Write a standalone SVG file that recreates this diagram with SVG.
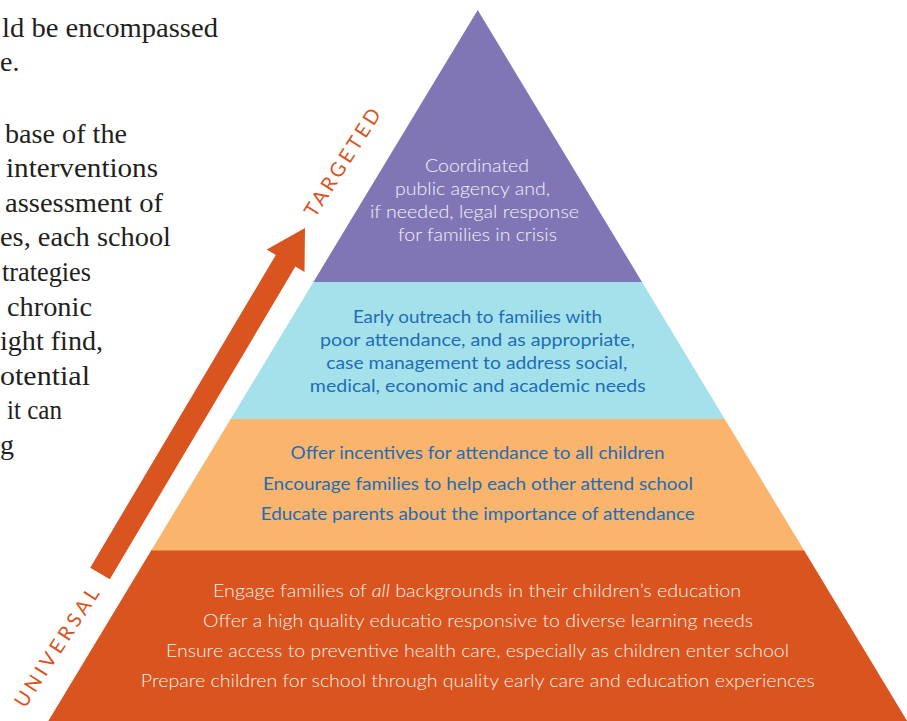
<svg xmlns="http://www.w3.org/2000/svg" width="907" height="721" viewBox="0 0 907 721">
<style>
.body{font-family:"Liberation Serif","Times New Roman",serif;font-size:28px;fill:#231f20}
.pt{font-family:Lato,"Noto Sans","Liberation Sans",sans-serif;font-size:17.5px;text-anchor:middle}
.w{fill:#f4f2fa;font-weight:300}
.b{fill:#1f6db6;font-weight:400}
.r{fill:#fdf1ea;font-weight:300}
.lab{font-family:Lato,"Noto Sans","Liberation Sans",sans-serif;font-size:20px;font-weight:400;fill:#d9541e}
</style>
<rect width="907" height="721" fill="#ffffff"/>
<g id="body-text">
<text class="body" x="2" y="36.7" textLength="216" lengthAdjust="spacingAndGlyphs">ld be encompassed</text>
<text class="body" x="0" y="71.3">e.</text>
<text class="body" x="5" y="142.5" textLength="122" lengthAdjust="spacingAndGlyphs">base of the</text>
<text class="body" x="6" y="177.1" textLength="152" lengthAdjust="spacingAndGlyphs">interventions</text>
<text class="body" x="5" y="211.7" textLength="158" lengthAdjust="spacingAndGlyphs">assessment of</text>
<text class="body" x="0" y="246.3" textLength="171" lengthAdjust="spacingAndGlyphs">es, each school</text>
<text class="body" x="2" y="280.9" textLength="89" lengthAdjust="spacingAndGlyphs">trategies</text>
<text class="body" x="7" y="315.5" textLength="85" lengthAdjust="spacingAndGlyphs">chronic</text>
<text class="body" x="0" y="350.1" textLength="103" lengthAdjust="spacingAndGlyphs">ight find,</text>
<text class="body" x="0" y="384.7" textLength="90" lengthAdjust="spacingAndGlyphs">otential</text>
<text class="body" x="7" y="419.3" textLength="55" lengthAdjust="spacingAndGlyphs">it can</text>
<text class="body" x="0" y="453.9">g</text>
</g>
<g id="tier-universal">
<polygon points="151.5,550 803.9,550 907.7,722 47.7,722" fill="#d9541e"/>
<line x1="151.5" y1="550.5" x2="803.9" y2="550.5" stroke="#ea8446" stroke-width="1"/>
<text class="pt r" x="477" y="596.5" textLength="528" lengthAdjust="spacingAndGlyphs">Engage families of <tspan font-style="italic">all</tspan> backgrounds in their children’s education</text>
<text class="pt r" x="478" y="626.5" textLength="550" lengthAdjust="spacingAndGlyphs">Offer a high quality educatio responsive to diverse learning needs</text>
<text class="pt r" x="477.5" y="656.5" textLength="623" lengthAdjust="spacingAndGlyphs">Ensure access to preventive health care, especially as children enter school</text>
<text class="pt r" x="477.8" y="686.5" textLength="674" lengthAdjust="spacingAndGlyphs">Prepare children for school through quality early care and education experiences</text>
</g>
<g id="tier-orange">
<polygon points="230.7,419 724.7,419 803.9,550 151.5,550" fill="#fab46b"/>
<text class="pt b" x="477.6" y="459.3" textLength="374" lengthAdjust="spacingAndGlyphs">Offer incentives for attendance to all children</text>
<text class="pt b" x="477.9" y="490" textLength="430" lengthAdjust="spacingAndGlyphs">Encourage families to help each other attend school</text>
<text class="pt b" x="477.8" y="520" textLength="434" lengthAdjust="spacingAndGlyphs">Educate parents about the importance of attendance</text>
</g>
<g id="tier-cyan">
<polygon points="313.4,282 642,282 724.7,419 230.7,419" fill="#a4e1ea"/>
<text class="pt b" x="477.4" y="323" textLength="249" lengthAdjust="spacingAndGlyphs">Early outreach to families with</text>
<text class="pt b" x="477.5" y="346" textLength="315" lengthAdjust="spacingAndGlyphs">poor attendance, and as appropriate,</text>
<text class="pt b" x="476.8" y="369" textLength="301" lengthAdjust="spacingAndGlyphs">case management to address social,</text>
<text class="pt b" x="477.8" y="391.5" textLength="336" lengthAdjust="spacingAndGlyphs">medical, economic and academic needs</text>
</g>
<g id="tier-purple">
<polygon points="477.7,10 642,282 313.4,282" fill="#8176b5"/>
<text class="pt w" x="477" y="172" textLength="104" lengthAdjust="spacingAndGlyphs">Coordinated</text>
<text class="pt w" x="472.5" y="195" textLength="155" lengthAdjust="spacingAndGlyphs">public agency and,</text>
<text class="pt w" x="474.5" y="218" textLength="209" lengthAdjust="spacingAndGlyphs">if needed, legal response</text>
<text class="pt w" x="477.5" y="241" textLength="159" lengthAdjust="spacingAndGlyphs">for families in crisis</text>
</g>
<g id="connectors">
<polygon id="arrow" points="305,228 304.5,271.9 295.4,266.5 109.8,579.3 90.2,567.7 275.8,254.9 266.7,249.5" fill="#d9541e"/>
</g>
<g id="labels">
<text class="lab" transform="translate(315,218.6) rotate(-57.5)" textLength="124" lengthAdjust="spacing">TARGETED</text>
<text class="lab" transform="translate(25,709) rotate(-57)" textLength="138" lengthAdjust="spacing">UNIVERSAL</text>
</g>
</svg>
